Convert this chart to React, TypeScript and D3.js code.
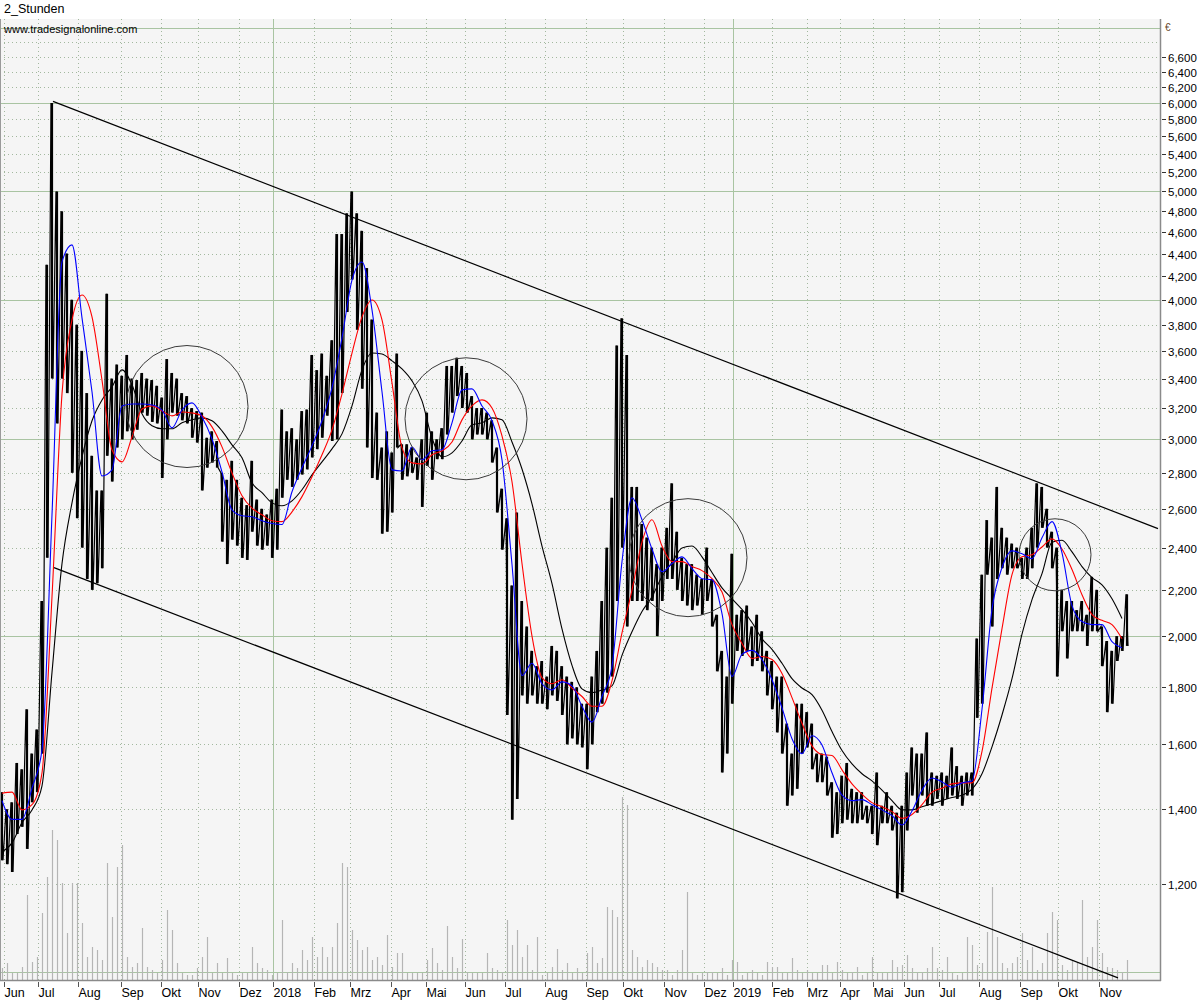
import React, {useEffect, useRef} from 'react';
import * as d3 from 'd3';

const W = 1200;
const H = 1000;

// 2-hour bars in steps of one sample per 5px column
const priceHigh = [
  1450, 1400, 1420, 1540, 1520, 1720, 1570, 1650, 2150, 4300,
  6000, 5000, 4800, 4400, 4000, 3800, 3600, 3300, 2900, 2700,
  2700, 4050, 3400, 3500, 3420, 3570, 3400, 3390, 3440, 3400,
  3390, 3350, 3270, 3540, 3440, 3400, 3300, 3280, 3200, 3180,
  3170, 3010, 3050, 2990, 2800, 2760, 2870, 2760, 2660, 2620,
  2870, 2650, 2600, 2570, 2650, 2710, 3190, 3050, 3070, 3000,
  3180, 3190, 3570, 3460, 3580, 3420, 3680, 4580, 4580, 4780,
  5000, 4780, 4610, 4270, 3840, 3170, 2950, 3050, 2920, 3580,
  2970, 2970, 2950, 2890, 3000, 3170, 3050, 3000, 3070, 3490,
  3490, 3550, 3490, 3440, 3280, 3200, 3200, 3170, 3120, 2950,
  2710, 2550, 2220, 2580, 2150, 2040, 1940, 1880, 1900, 1840,
  1960, 1940, 1880, 1840, 1820, 1800, 1740, 1740, 1840, 1940,
  2150, 2400, 2660, 3640, 3850, 3570, 2720, 2720, 2520, 2450,
  2400, 2320, 2400, 2500, 2740, 2480, 2350, 2320, 2320, 2270,
  2250, 2400, 2250, 2090, 1940, 1840, 2370, 2090, 2110, 2130,
  2040, 2090, 2020, 1940, 1900, 1840, 1840, 1670, 1570, 1740,
  1740, 1710, 1670, 1570, 1570, 1560, 1480, 1450, 1500, 1540,
  1460, 1450, 1450, 1410, 1410, 1510, 1410, 1450, 1410, 1390,
  1410, 1510, 1590, 1570, 1570, 1640, 1510, 1500, 1510, 1500,
  1590, 1530, 1500, 1510, 1510, 1990, 2270, 2540, 2450, 2720,
  2500, 2450, 2420, 2400, 2350, 2400, 2500, 2740, 2720, 2600,
  2480, 2400, 2200, 2150, 2150, 2110, 2150, 2090, 2260, 2200,
  2040, 1980, 1940, 2000, 2000, 2180
];

const priceLow = [
  1260, 1250, 1230, 1330, 1350, 1290, 1420, 1450, 1570, 2350,
  3400, 3100, 3400, 3300, 2800, 2550, 2400, 2250, 2200, 2230,
  2300, 2900, 2750, 2950, 3000, 3050, 3000, 3060, 3170, 3150,
  3110, 3100, 2770, 3000, 3170, 3150, 3120, 3100, 3010, 2980,
  2700, 2830, 2860, 2830, 2430, 2320, 2440, 2410, 2350, 2340,
  2480, 2410, 2390, 2410, 2350, 2390, 2660, 2760, 2720, 2760,
  2790, 2820, 2890, 2940, 3010, 3150, 2990, 3000, 3300, 3900,
  4170, 3760, 3330, 2950, 2770, 2760, 2470, 2480, 2580, 2950,
  2760, 2780, 2800, 2760, 2610, 2840, 2760, 2880, 2880, 3030,
  3170, 3280, 3200, 3170, 3000, 3030, 3030, 3000, 2860, 2580,
  2390, 1700, 1370, 1430, 1770, 1740, 1770, 1740, 1740, 1720,
  1770, 1750, 1700, 1600, 1620, 1600, 1590, 1520, 1600, 1710,
  1740, 1780, 1840, 2150, 2400, 2040, 2150, 2150, 2150, 2110,
  2150, 2000, 2150, 2250, 2250, 2200, 2150, 2130, 2110, 2130,
  2090, 2150, 2040, 1860, 1510, 1570, 1740, 1940, 1920, 1940,
  1880, 1900, 1860, 1770, 1720, 1640, 1570, 1410, 1440, 1460,
  1570, 1590, 1520, 1480, 1480, 1440, 1320, 1330, 1360, 1370,
  1360, 1360, 1370, 1360, 1330, 1300, 1360, 1360, 1340, 1165,
  1180, 1340, 1440, 1390, 1440, 1410, 1410, 1430, 1410, 1430,
  1440, 1430, 1410, 1440, 1440, 1690, 1740, 2270, 2040, 2250,
  2300, 2270, 2300, 2300, 2250, 2250, 2300, 2400, 2500, 2400,
  2300, 1840, 2020, 1910, 2020, 2020, 2020, 1960, 2020, 2020,
  1880, 1710, 1740, 1900, 1940, 1960
];

// moving averages, one value on every second price sample
const maFast = [
  1425, 1371, 1371, 1462, 1583, 2568, 4324, 4479, 3853, 3309,
  2782, 2817, 3214, 3227, 3227, 3220, 3187, 3072, 3187, 3234,
  3142, 3002, 2805, 2594, 2563, 2558, 2537, 2522, 2517, 2693,
  2829, 2960, 3117, 3336, 3698, 4166, 4324, 3917, 3309, 2817,
  2811, 2953, 2876, 2930, 2936, 3104, 3322, 3329, 3214, 3117,
  2876, 2318, 1844, 1891, 1813, 1790, 1820, 1805, 1731, 1675,
  1766, 1879, 2332, 2660, 2542, 2393, 2284, 2323, 2355, 2299,
  2251, 2246, 2095, 1840, 1926, 1942, 1906, 1828, 1725, 1619,
  1570, 1629, 1598, 1509, 1441, 1425, 1428, 1413, 1398, 1382,
  1355, 1395, 1456, 1493, 1481, 1465, 1478, 1484, 1720, 2113,
  2303, 2384, 2370, 2346, 2449, 2532, 2374, 2130, 2061, 2048,
  2048, 1977, 1953
];

const maMid = [
  1447, 1450, 1398, 1413, 1509, 2169, 3295, 3837, 4040, 3861,
  3390, 2936, 2864, 3015, 3194, 3214, 3181, 3149, 3174, 3168,
  3149, 3078, 2954, 2799, 2671, 2604, 2568, 2537, 2532, 2584,
  2666, 2777, 2906, 3059, 3295, 3584, 3861, 3998, 3837, 3370,
  2948, 2858, 2852, 2906, 2930, 2984, 3123, 3214, 3254, 3200,
  3021, 2749, 2323, 2000, 1836, 1813, 1828, 1797, 1766, 1731,
  1731, 1824, 2013, 2199, 2427, 2542, 2408, 2332, 2332, 2308,
  2289, 2251, 2190, 2048, 1970, 1910, 1918, 1906, 1852, 1762,
  1671, 1595, 1567, 1564, 1518, 1475, 1444, 1419, 1407, 1393,
  1374, 1385, 1413, 1450, 1462, 1475, 1478, 1478, 1577, 1797,
  2031, 2270, 2355, 2365, 2403, 2444, 2393, 2294, 2178, 2091,
  2066, 2048, 1989
];

const maSlow = [
  1282, 1306, 1362, 1398, 1469, 1856, 2322, 2632, 2894, 3117,
  3254, 3343, 3462, 3357, 3162, 3085, 3066, 3066, 3104, 3123,
  3136, 3117, 3053, 2966, 2888, 2743, 2688, 2632, 2616, 2643,
  2704, 2788, 2864, 2942, 3034, 3214, 3462, 3584, 3577, 3527,
  3469, 3384, 3248, 3008, 2894, 2918, 2990, 3091, 3104, 3136,
  3123, 2984, 2822, 2627, 2408, 2228, 2030, 1883, 1794, 1780,
  1790, 1805, 1922, 2018, 2104, 2169, 2261, 2327, 2398, 2408,
  2355, 2280, 2209, 2160, 2113, 2057, 1989, 1946, 1891, 1832,
  1797, 1773, 1717, 1643, 1580, 1537, 1506, 1484, 1456, 1425,
  1398, 1398, 1407, 1416, 1425, 1434, 1441, 1459, 1506, 1592,
  1700, 1832, 2008, 2156, 2275, 2427, 2437, 2379, 2308, 2256,
  2223, 2160, 2074
];

const volume = [
  12, 17, 7, 7, 13, 85, 18, 23, 67, 103,
  150, 140, 97, 47, 97, 97, 57, 23, 33, 30,
  20, 117, 63, 113, 135, 23, 13, 17, 52, 13,
  10, 7, 20, 70, 50, 17, 7, 5, 5, 12,
  23, 43, 7, 17, 7, 22, 7, 5, 7, 7,
  33, 17, 12, 10, 5, 7, 60, 8, 17, 12,
  30, 20, 43, 23, 33, 23, 33, 57, 117, 113,
  50, 40, 30, 33, 20, 23, 15, 45, 13, 27,
  27, 7, 7, 7, 7, 20, 32, 17, 10, 54,
  23, 12, 41, 8, 7, 7, 7, 27, 12, 10,
  8, 60, 35, 50, 23, 35, 10, 43, 5, 7,
  13, 31, 10, 17, 7, 12, 7, 27, 33, 17,
  22, 73, 70, 63, 183, 175, 30, 23, 13, 20,
  17, 13, 10, 10, 5, 10, 30, 88, 7, 5,
  7, 8, 8, 7, 12, 5, 20, 18, 5, 7,
  10, 7, 5, 18, 13, 13, 7, 7, 22, 10,
  7, 10, 7, 7, 15, 15, 7, 18, 10, 7,
  8, 13, 5, 7, 23, 7, 7, 7, 20, 13,
  15, 25, 12, 8, 8, 12, 33, 12, 10, 23,
  7, 5, 7, 43, 35, 15, 17, 48, 93, 43,
  17, 12, 17, 23, 47, 20, 33, 10, 17, 47,
  68, 60, 15, 10, 20, 17, 80, 23, 33, 60,
  27, 13, 12, 10, 8, 20
];

// month starts, in bar samples
const monthLabels = [
  'Jun', 'Jul', 'Aug', 'Sep', 'Okt', 'Nov', 'Dez', '2018', 'Feb', 'Mrz',
  'Apr', 'Mai', 'Jun', 'Jul', 'Aug', 'Sep', 'Okt', 'Nov', 'Dez', '2019',
  'Feb', 'Mrz', 'Apr', 'Mai', 'Jun', 'Jul', 'Aug', 'Sep', 'Okt', 'Nov'
];
const monthStarts = [
  0.4, 7.2, 15.2, 23.8, 31.8, 39.2, 47.4, 54.2, 62.4, 69.6,
  77.8, 84.8, 92.6, 100.6, 108.6, 116.8, 124.2, 132.4, 140.4, 146.2,
  154, 161, 167.6, 174.2, 180.4, 187.4, 195.4, 203.6, 211.2, 219.4
];

const priceLabels = [
  1200, 1400, 1600, 1800, 2000, 2200, 2400, 2600, 2800, 3000, 3200, 3400, 3600, 3800,
  4000, 4200, 4400, 4600, 4800, 5000, 5200, 5400, 5600, 5800, 6000, 6200, 6400, 6600
];
const majorLevels = [1000, 2000, 3000, 4000, 5000, 6000, 7000];
const minorLevels = [
  1200, 1400, 1600, 1800, 2200, 2400, 2600, 2800, 3200, 3400, 3600, 3800,
  4200, 4400, 4600, 4800, 5200, 5400, 5600, 5800, 6200, 6400, 6600, 6800
];

// drawn trend channel: [bar, price] anchors
const channelLines = [
  [[10.2, 6020], [231.2, 2496]],
  [[10.4, 2303], [223.2, 989]]
];

// hand drawn circles: centre bar and price
const circleCentres = [
  [37, 3210],
  [92.8, 3130],
  [137.2, 2351],
  [210.6, 2365]
];
const circleRadii = [61, 61, 59, 36];

const font = "'Liberation Sans', Arial, sans-serif";

export default function App() {
  const ref = useRef<SVGSVGElement>(null);

  useEffect(() => {
    const svg = d3.select(ref.current);
    svg.selectAll('*').remove();

    const left = 0, right = 1160, top = 19, bottom = 980;

    const x = d3.scaleLinear().domain([0, priceHigh.length - 1]).range([2, 1127]);
    const y = d3.scaleLog().domain([1200, 6000]).range([884, 103]);
    const yVol = d3.scaleLinear().domain([0, 200]).range([bottom, bottom - 200]);

    svg.append('rect').attr('width', W).attr('height', H).attr('fill', '#ffffff');
    svg.append('rect')
      .attr('x', left).attr('y', top)
      .attr('width', right - left).attr('height', bottom - top)
      .attr('fill', '#f5f5f5');

    svg.append('defs').append('clipPath').attr('id', 'plotClip')
      .append('rect')
      .attr('x', left).attr('y', top)
      .attr('width', right - left).attr('height', bottom - top);

    const grid = svg.append('g').attr('clip-path', 'url(#plotClip)');

    // horizontal grid
    grid.selectAll('line.minor')
      .data(minorLevels)
      .join('line')
      .attr('x1', left).attr('x2', right)
      .attr('y1', d => Math.round(y(d)) + 0.5)
      .attr('y2', d => Math.round(y(d)) + 0.5)
      .attr('stroke', '#a3b89f')
      .attr('stroke-dasharray', '1,3');

    grid.selectAll('line.major')
      .data(majorLevels)
      .join('line')
      .attr('x1', left).attr('x2', right)
      .attr('y1', d => Math.round(y(d)) + 0.5)
      .attr('y2', d => Math.round(y(d)) + 0.5)
      .attr('stroke', '#a9c4a2');

    // vertical month grid
    const isYear = (s: string) => /^\d{4}$/.test(s);
    monthStarts.forEach((m, k) => {
      const xx = Math.round(x(m)) + 0.5;
      grid.append('line')
        .attr('x1', xx).attr('x2', xx)
        .attr('y1', top).attr('y2', bottom)
        .attr('stroke', isYear(monthLabels[k]) ? '#a9c4a2' : '#a3b89f')
        .attr('stroke-dasharray', isYear(monthLabels[k]) ? null : '1,3');
    });

    const chart = svg.append('g').attr('clip-path', 'url(#plotClip)');

    // volume
    chart.append('g')
      .selectAll('line')
      .data(volume)
      .join('line')
      .attr('x1', (d, i) => Math.round(x(i)) + 0.5)
      .attr('x2', (d, i) => Math.round(x(i)) + 0.5)
      .attr('y1', bottom)
      .attr('y2', d => yVol(d))
      .attr('stroke', '#b5b5b5')
      .attr('stroke-width', 1.2);

    // price: high-low bars plus a sawtooth through them
    chart.append('g')
      .selectAll('line')
      .data(priceHigh)
      .join('line')
      .attr('x1', (d, i) => x(i))
      .attr('x2', (d, i) => x(i))
      .attr('y1', d => y(d))
      .attr('y2', (d, i) => y(priceLow[i]))
      .attr('stroke', '#000')
      .attr('stroke-width', 2.2);

    const saw: [number, number][] = [];
    priceHigh.forEach((h, i) => {
      saw.push([x(i) - 1, y(h)], [x(i) + 1, y(priceLow[i])]);
    });
    chart.append('path')
      .attr('d', d3.line()(saw))
      .attr('fill', 'none')
      .attr('stroke', '#000')
      .attr('stroke-width', 1.2);

    // moving averages
    const maLine = d3.line<number>()
      .x((d, k) => x(2 * k))
      .y(d => y(d))
      .curve(d3.curveMonotoneX);

    ([[maSlow, '#000000'], [maMid, '#ff0000'], [maFast, '#0000ff']] as [number[], string][])
      .forEach(([series, colour]) => {
        chart.append('path')
          .attr('d', maLine(series))
          .attr('fill', 'none')
          .attr('stroke', colour)
          .attr('stroke-width', 1.1);
      });

    // trend channel
    channelLines.forEach(pts => {
      chart.append('line')
        .attr('x1', x(pts[0][0])).attr('y1', y(pts[0][1]))
        .attr('x2', x(pts[1][0])).attr('y2', y(pts[1][1]))
        .attr('stroke', '#000')
        .attr('stroke-width', 1.2);
    });

    // circles
    circleCentres.forEach((c, k) => {
      chart.append('circle')
        .attr('cx', x(c[0])).attr('cy', y(c[1]))
        .attr('r', circleRadii[k])
        .attr('fill', 'none')
        .attr('stroke', '#3a3a3a')
        .attr('stroke-width', 1);
    });

    // frame
    svg.append('line')
      .attr('x1', left).attr('x2', right + 1)
      .attr('y1', bottom + 0.5).attr('y2', bottom + 0.5)
      .attr('stroke', '#8a8a8a').attr('stroke-width', 1.5);
    svg.append('line')
      .attr('x1', right + 0.5).attr('x2', right + 0.5)
      .attr('y1', top).attr('y2', bottom + 1)
      .attr('stroke', '#8a8a8a').attr('stroke-width', 1.5);
    svg.append('line')
      .attr('x1', 0.5).attr('x2', 0.5)
      .attr('y1', top).attr('y2', bottom)
      .attr('stroke', '#9a9a9a');

    // y axis
    const yAxis = svg.append('g');
    priceLabels.forEach(v => {
      const yy = Math.round(y(v)) + 0.5;
      yAxis.append('line')
        .attr('x1', right + 2).attr('x2', right + 6)
        .attr('y1', yy).attr('y2', yy)
        .attr('stroke', '#333');
      yAxis.append('text')
        .attr('x', right + 8).attr('y', yy + 4)
        .attr('font-family', font).attr('font-size', 11.5)
        .attr('fill', '#000')
        .text(d3.format(',')(v));
    });
    yAxis.append('text')
      .attr('x', right + 5).attr('y', 31)
      .attr('font-family', font).attr('font-size', 10)
      .attr('fill', '#6a4a2a')
      .text('€');

    // x axis
    const xAxis = svg.append('g');
    monthStarts.forEach((m, k) => {
      const xx = Math.round(x(m)) + 0.5;
      xAxis.append('line')
        .attr('x1', xx).attr('x2', xx)
        .attr('y1', bottom + 2).attr('y2', bottom + 7)
        .attr('stroke', '#555');
      xAxis.append('text')
        .attr('x', xx).attr('y', 997)
        .attr('font-family', font).attr('font-size', 12.5)
        .attr('fill', '#000')
        .text(monthLabels[k]);
    });

    // titles
    svg.append('text')
      .attr('x', 4).attr('y', 13)
      .attr('font-family', font).attr('font-size', 12.5)
      .attr('fill', '#000')
      .text('2_Stunden');
    svg.append('text')
      .attr('x', 4).attr('y', 33)
      .attr('font-family', font).attr('font-size', 11)
      .attr('fill', '#000')
      .text('www.tradesignalonline.com');
  }, []);

  return (
    <svg ref={ref} width={W} height={H}
      style={{position: 'absolute', left: 0, top: 0, display: 'block'}} />
  );
}
